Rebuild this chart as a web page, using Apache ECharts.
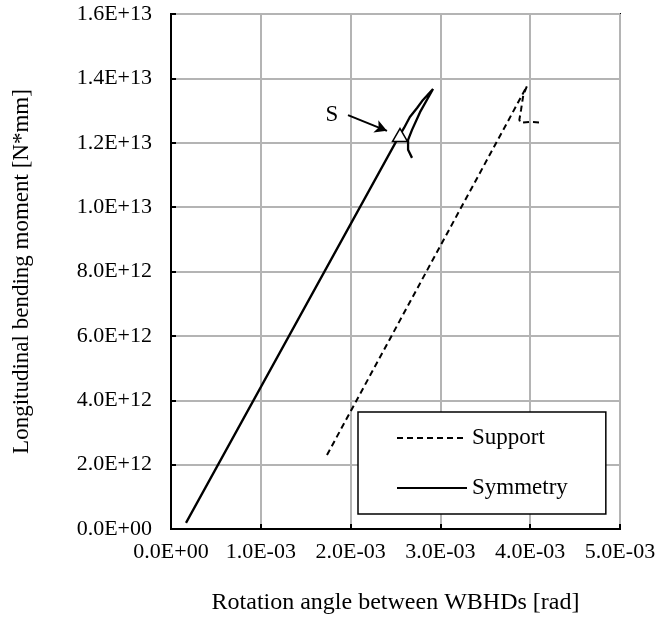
<!DOCTYPE html>
<html><head><meta charset="utf-8">
<script src="https://cdn.jsdelivr.net/npm/echarts@6/dist/echarts.min.js"></script>
<style>html,body{margin:0;padding:0;background:#fff}#c{width:659px;height:634px}</style>
</head><body><div id="c"></div>
<script>
const FONT = '"Liberation Serif","Times New Roman",serif';
const xTickLabels = ['0.0E+00','1.0E-03','2.0E-03','3.0E-03','4.0E-03','5.0E-03'];
const yTickLabels = ['0.0E+00','2.0E+12','4.0E+12','6.0E+12','8.0E+12','1.0E+13','1.2E+13','1.4E+13','1.6E+13'];
const seriesNames = ['Support','Symmetry'];
const supportX = [1.737e-3, 3.964e-3, 3.923e-3, 3.898e-3, 3.879e-3, 3.894e-3, 3.998e-3, 4.109e-3];
const supportY = [2.30e12, 13.76e12, 13.48e12, 13.02e12, 12.71e12, 12.62e12, 12.65e12, 12.63e12];
const symX = [0.167e-3, 2.517e-3, 2.595e-3, 2.66e-3, 2.74e-3, 2.806e-3, 2.918e-3, 2.773e-3, 2.684e-3, 2.64e-3, 2.64e-3, 2.684e-3];
const symY = [0.19e12, 12.09e12, 12.46e12, 12.80e12, 13.08e12, 13.33e12, 13.67e12, 12.95e12, 12.40e12, 12.09e12, 11.78e12, 11.53e12];
const markerS = [2.55e-3, 12.24e12];
const labelS = [1.793e-3, 12.86e12];
const arrowFrom = [1.971e-3, 12.86e12];
const arrowTo = [2.405e-3, 12.37e12];

const zip = (a, b) => a.map((v, i) => [v, b[i]]);
const chart = echarts.init(document.getElementById('c'));
chart.setOption({
  animation: false,
  backgroundColor: '#fff',
  grid: {left: 171, right: 39, top: 14, bottom: 105, show: true, borderColor: '#000', borderWidth: 2, backgroundColor: 'transparent'},
  xAxis: {
    type: 'value', min: 0, max: 5e-3, interval: 1e-3,
    name: 'Rotation angle between WBHDs [rad]', nameLocation: 'middle', nameGap: 62,
    nameTextStyle: {fontFamily: FONT, fontSize: 24, color: '#000'},
    axisLine: {show: true, lineStyle: {color: '#000', width: 2}},
    axisTick: {show: true, inside: true, length: 5, lineStyle: {color: '#000', width: 2}},
    axisLabel: {margin: 12, fontFamily: FONT, fontSize: 22, color: '#000', formatter: v => xTickLabels[Math.round(v / 1e-3)]},
    splitLine: {show: true, lineStyle: {color: '#b4b4b4', width: 2}}
  },
  yAxis: {
    type: 'value', min: 0, max: 1.6e13, interval: 2e12,
    name: 'Longitudinal bending moment [N*mm]', nameLocation: 'middle', nameGap: 138, nameRotate: 90,
    nameTextStyle: {fontFamily: FONT, fontSize: 23, color: '#000'},
    axisLine: {show: true, lineStyle: {color: '#000', width: 2}},
    axisTick: {show: true, inside: true, length: 5, lineStyle: {color: '#000', width: 2}},
    axisLabel: {margin: 19, fontFamily: FONT, fontSize: 22, color: '#000', formatter: v => yTickLabels[Math.round(v / 2e12)]},
    splitLine: {show: true, lineStyle: {color: '#b4b4b4', width: 2}}
  },
  legend: {
    data: seriesNames, orient: 'vertical', left: 358, top: 412,
    backgroundColor: '#fff', borderColor: '#000', borderWidth: 1.5,
    padding: [14, 38, 14, 38], itemGap: 26, itemWidth: 70, itemHeight: 18,
    itemStyle: {color: 'transparent', borderWidth: 0, opacity: 0},
    textStyle: {fontFamily: FONT, fontSize: 23, lineHeight: 24, color: '#000'}
  },
  series: [
    {name: seriesNames[0], type: 'line', data: zip(supportX, supportY), symbol: 'none', color: '#000',
     lineStyle: {color: '#000', width: 2, type: [6, 4]}},
    {name: seriesNames[1], type: 'line', data: zip(symX, symY), symbol: 'none', color: '#000',
     lineStyle: {color: '#000', width: 2.3, type: 'solid'}},
    {name: 'marker', type: 'scatter', data: [markerS], symbol: 'triangle', symbolSize: [15, 13], z: 5,
     itemStyle: {color: '#fff', borderColor: '#000', borderWidth: 1.5, opacity: 1}},
    {name: 'S', type: 'scatter', data: [labelS], symbolSize: 0, itemStyle: {color: 'rgba(0,0,0,0)', opacity: 1},
     label: {show: true, position: 'inside', formatter: 'S', fontFamily: FONT, fontSize: 23, color: '#000'},
     markLine: {silent: true, symbol: ['none', 'arrow'], symbolSize: [10, 12], label: {show: false},
       lineStyle: {color: '#000', width: 2, type: 'solid'},
       data: [[{coord: arrowFrom}, {coord: arrowTo}]]}}
  ]
});
</script></body></html>
